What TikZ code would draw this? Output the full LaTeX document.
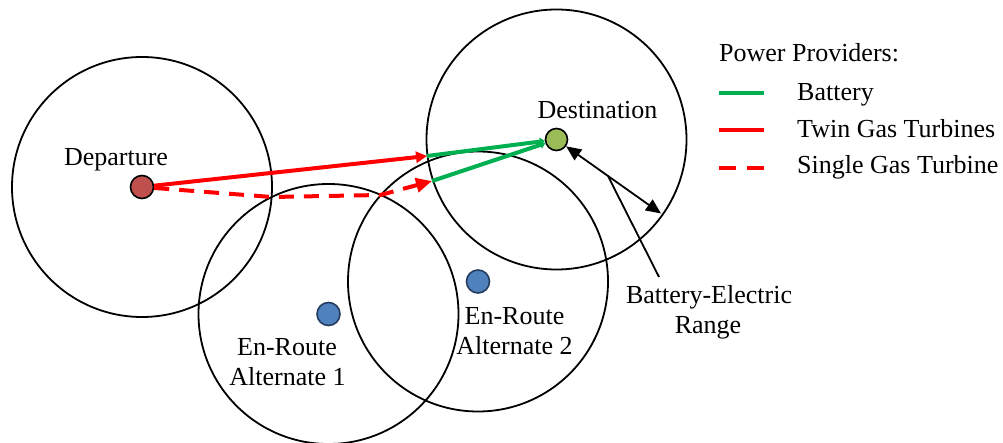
\documentclass[tikz,border=0pt]{standalone}
\usepackage{fontspec}
\setmainfont{Liberation Serif}
\usetikzlibrary{arrows.meta}
\definecolor{route}{RGB}{255,0,0}
\definecolor{batt}{RGB}{0,176,80}
\definecolor{depfill}{RGB}{192,80,77}
\definecolor{destfill}{RGB}{155,187,89}
\definecolor{altfill}{RGB}{79,129,189}
\definecolor{altedge}{RGB}{35,60,95}

\begin{document}
\begin{tikzpicture}[x=1pt,y=-1pt,
  rangering/.style={draw=black, line width=1.8pt},
  site/.style={circle, draw=black, line width=1.6pt, minimum size=23pt, inner sep=0pt},
  lbl/.style={font=\fontsize{26}{30}\selectfont, anchor=base, inner sep=0pt},
  twin/.style={draw=route, line width=4pt},
  single/.style={draw=route, line width=4pt, dash pattern=on 15pt off 10pt},
  batline/.style={draw=batt, line width=4pt},
  dimline/.style={draw=black, line width=1.8pt},
]
\useasboundingbox (0,0) rectangle (1003,443);

% airports
\node[site, fill=depfill] (dep) at (142,187) {};
\node[site, fill=destfill, minimum size=22pt] (dest) at (556.5,139.5) {};
\node[site, fill=altfill, draw=altedge] (alt1) at (328.5,314) {};
\node[site, fill=altfill, draw=altedge] (alt2) at (478,281.5) {};

% battery-electric range around each airport
\draw[rangering] (dep) circle[radius=130pt];
\draw[rangering] (dest) circle[radius=130pt];
\draw[rangering] (alt1) circle[radius=130pt];
\draw[rangering] (alt2) circle[radius=130pt];

% waypoints of the two routes
\coordinate (twinEnd) at (427,156);
\coordinate (gapA) at (271.5,197);
\coordinate (gapB) at (380.5,195);
\coordinate (singleEnd) at (432,181);

% routes
\draw[twin, -{Triangle[length=11pt,width=11pt]}] (dep) -- (twinEnd);
\draw[single, -{Triangle[length=16pt,width=14pt]}] (dep) -- (gapA) -- (gapB) -- (singleEnd);
\draw[batline, -{Triangle[length=5pt,width=8pt]}] (twinEnd) -- (dest);
\draw[batline, -{Triangle[length=5pt,width=8pt]}] (singleEnd) -- (dest);

% range dimension
\coordinate (rim) at (661,213.5);
\draw[dimline, {Triangle[length=15pt,width=13pt]}-{Triangle[length=15pt,width=13pt]}] (dest) -- (rim);
\coordinate (leadTop) at (608,176);
\coordinate (leadBot) at (659,277);
\draw[dimline] (leadTop) -- (leadBot);

% labels
\node[lbl] (depl) at (116,166) {Departure};
\node[lbl] (destl) at (597.5,119) {Destination};
\node[lbl] (alt1a) at (287,355.5) {En-Route};
\node[lbl] (alt1b) at (287.5,385) {Alternate 1};
\node[lbl] (alt2a) at (514.5,324) {En-Route};
\node[lbl] (alt2b) at (514.5,354) {Alternate 2};
\node[lbl] (bera) at (709,304) {Battery-Electric};
\node[lbl] (berb) at (708,333) {Range};

% legend
\node[lbl, anchor=base west] (legt) at (719,61.7) {Power Providers:};
\coordinate (lgA1) at (719,93.3);
\coordinate (lgA2) at (764,93.3);
\coordinate (lgB1) at (719,130);
\coordinate (lgB2) at (764,130);
\coordinate (lgC1) at (719,167.7);
\coordinate (lgC2) at (764,167.7);
\draw[batline] (lgA1) -- (lgA2);
\draw[twin] (lgB1) -- (lgB2);
\draw[twin, dash pattern=on 17pt off 11pt] (lgC1) -- (lgC2);
\node[lbl, anchor=base west] (lega) at (797,101) {Battery};
\node[lbl, anchor=base west] (legb) at (797,138) {Twin Gas Turbines};
\node[lbl, anchor=base west] (legc) at (797,173.5) {Single Gas Turbine};
\end{tikzpicture}
\end{document}
